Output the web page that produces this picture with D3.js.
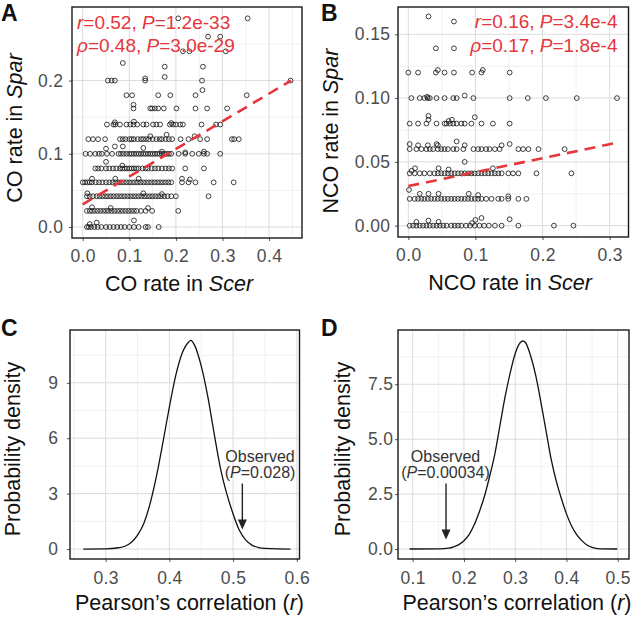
<!DOCTYPE html>
<html><head><meta charset="utf-8">
<script src="https://cdn.jsdelivr.net/npm/d3@7"></script>
<style>
body{margin:0;background:#fff}
svg{display:block}
text{font-family:"Liberation Sans",Arial,Helvetica,sans-serif}
</style>
</head><body>
<svg id="c" width="632" height="617"></svg>
<script>
// ---------------- DATA ----------------
// Panel A: CO rate (Scer on x, Spar on y); rows of points sharing a y level
const coRowY = [0.285, 0.26, 0.24, 0.224, 0.219, 0.205, 0.2, 0.187, 0.18, 0.162, 0.14, 0.12, 0.1, 0.08, 0.061, 0.042, 0.022, 0.0];
const coRowX = [
  [0.205, 0.354],
  [0.269, 0.295],
  [0.215, 0.229, 0.307],
  [0.086],
  [0.176, 0.258],
  [0.176],
  [0.054, 0.062, 0.069, 0.134, 0.256, 0.446],
  [0.257],
  [0.094, 0.106, 0.162, 0.188, 0.242, 0.352],
  [0.109, 0.145, 0.149, 0.155, 0.162, 0.174, 0.201, 0.242, 0.267, 0.31],
  [0.052, 0.066, 0.07, 0.08, 0.094, 0.102, 0.109, 0.117, 0.13, 0.137, 0.151, 0.158, 0.166, 0.187, 0.194, 0.2, 0.209, 0.215, 0.255, 0.286, 0.295],
  [0.012, 0.022, 0.033, 0.048, 0.08, 0.086, 0.092, 0.1, 0.105, 0.11, 0.118, 0.125, 0.13, 0.136, 0.142, 0.15, 0.158, 0.165, 0.17, 0.178, 0.185, 0.192, 0.21, 0.227, 0.252, 0.267, 0.32, 0.325, 0.335],
  [0.006, 0.016, 0.027, 0.035, 0.041, 0.052, 0.063, 0.077, 0.082, 0.088, 0.094, 0.1, 0.105, 0.11, 0.115, 0.12, 0.125, 0.13, 0.135, 0.14, 0.145, 0.15, 0.155, 0.16, 0.165, 0.17, 0.175, 0.18, 0.185, 0.19, 0.206, 0.22, 0.235, 0.249, 0.26, 0.267, 0.295],
  [0.027, 0.033, 0.04, 0.05, 0.057, 0.065, 0.072, 0.08, 0.085, 0.09, 0.095, 0.1, 0.105, 0.11, 0.115, 0.12, 0.128, 0.135, 0.14, 0.148, 0.155, 0.162, 0.17, 0.178, 0.185, 0.192, 0.22, 0.26],
  [0.0, 0.005, 0.01, 0.015, 0.02, 0.028, 0.035, 0.042, 0.05, 0.057, 0.064, 0.07, 0.076, 0.082, 0.088, 0.094, 0.1, 0.106, 0.112, 0.118, 0.124, 0.13, 0.136, 0.142, 0.148, 0.154, 0.16, 0.166, 0.172, 0.178, 0.184, 0.19, 0.213, 0.227, 0.242, 0.281, 0.324],
  [0.009, 0.015, 0.022, 0.03, 0.036, 0.042, 0.048, 0.054, 0.06, 0.066, 0.072, 0.078, 0.084, 0.09, 0.096, 0.102, 0.108, 0.114, 0.12, 0.126, 0.132, 0.138, 0.144, 0.15, 0.156, 0.162, 0.168, 0.175, 0.182, 0.19, 0.2, 0.27],
  [0.009, 0.015, 0.02, 0.026, 0.032, 0.038, 0.044, 0.05, 0.056, 0.062, 0.068, 0.074, 0.08, 0.086, 0.092, 0.098, 0.104, 0.11, 0.116, 0.125, 0.135, 0.149, 0.205],
  [0.009, 0.013, 0.018, 0.025, 0.032, 0.04, 0.05, 0.058, 0.066, 0.074, 0.082, 0.09, 0.1, 0.11, 0.12, 0.135, 0.14, 0.163]
];
const coExtra = [[0.134,0.203],[0.109,0.167],[0.069,0.143],[0.11,0.144],[0.19,0.142],[0.145,0.124],[0.18,0.126],[0.24,0.124],
  [0.05,0.107],[0.069,0.11],[0.13,0.108],[0.086,0.11],[0.26,0.103],[0.22,0.102],[0.17,0.103],[0.05,0.089],[0.085,0.084],
  [0.02,0.066],[0.07,0.066],[0.12,0.066],[0.213,0.066],[0.23,0.065],[0.01,0.046],[0.13,0.046],[0.17,0.045],
  [0.02,0.027],[0.06,0.026],[0.14,0.026],[0.015,0.004],[0.03,0.006],[0.11,0.009]];
const coFitX = [0, 0.447];
const coFitY = [0.031, 0.2];

// Panel B: NCO rate
const ncoRowY = [0.164, 0.16, 0.139, 0.12, 0.1, 0.08, 0.06, 0.041, 0.021, 0.0];
const ncoRowX = [
  [0.030],
  [0.068],
  [0.041, 0.068],
  [0.0, 0.0145, 0.041, 0.054, 0.068, 0.095, 0.109, 0.151],
  [0.0045, 0.017, 0.024, 0.029, 0.032, 0.042, 0.054, 0.067, 0.072, 0.097, 0.151, 0.178, 0.205, 0.251, 0.311],
  [0.002, 0.0145, 0.027, 0.042, 0.054, 0.057, 0.062, 0.067, 0.072, 0.079, 0.084, 0.094, 0.109, 0.126, 0.151],
  [0.002, 0.012, 0.0195, 0.027, 0.032, 0.037, 0.044, 0.049, 0.054, 0.059, 0.067, 0.072, 0.082, 0.097, 0.104, 0.109, 0.116, 0.121, 0.129, 0.136, 0.164, 0.171, 0.179, 0.194, 0.233],
  [0.002, 0.0095, 0.017, 0.024, 0.032, 0.039, 0.044, 0.049, 0.054, 0.059, 0.064, 0.069, 0.074, 0.079, 0.084, 0.089, 0.094, 0.099, 0.104, 0.109, 0.114, 0.119, 0.124, 0.129, 0.134, 0.139, 0.149, 0.156, 0.164, 0.191, 0.243],
  [0.002, 0.0095, 0.0145, 0.0195, 0.024, 0.029, 0.034, 0.039, 0.044, 0.049, 0.054, 0.059, 0.064, 0.069, 0.074, 0.079, 0.084, 0.089, 0.094, 0.099, 0.104, 0.109, 0.116, 0.124, 0.134, 0.139, 0.149, 0.164, 0.176],
  [0.002, 0.007, 0.012, 0.017, 0.022, 0.027, 0.032, 0.037, 0.042, 0.047, 0.052, 0.057, 0.064, 0.069, 0.074, 0.079, 0.086, 0.092, 0.099, 0.106, 0.113, 0.12, 0.129, 0.139, 0.164, 0.217, 0.246]
];
const ncoExtra = [[0.044,0.122],[0.111,0.122],[0.084,0.102],[0.028,0.101],[0.03,0.086],[0.03,0.083],[0.099,0.085],[0.06,0.082],[0.065,0.083],
  [0.002,0.064],[0.0145,0.063],[0.029,0.063],[0.042,0.064],[0.044,0.063],[0.072,0.066],[0.084,0.063],[0.139,0.063],[0.151,0.064],
  [0.01,0.045],[0.045,0.045],[0.06,0.044],[0.126,0.045],[0.084,0.050],[0.005,0.043],[0.001,0.028],
  [0.017,0.025],[0.03,0.025],[0.045,0.025],[0.09,0.025],[0.104,0.024],[0.149,0.023],
  [0.012,0.003],[0.03,0.004],[0.045,0.003],[0.1,0.0045],[0.109,0.006],[0.151,0.005],[0.095,0.002]];
const ncoFitX = [0, 0.311];
const ncoFitY = [0.031, 0.065];

// Panel C: null distribution of Pearson's r (CO)
const nullCoR = [0.265, 0.30, 0.32, 0.33, 0.34, 0.35, 0.36, 0.37, 0.38, 0.39, 0.40, 0.41, 0.42, 0.43, 0.4335, 0.44, 0.45, 0.46, 0.47, 0.48, 0.49, 0.50, 0.51, 0.52, 0.53, 0.54, 0.55, 0.57, 0.59];
const nullCoD = [0, 0.01, 0.07, 0.15, 0.35, 0.75, 1.4, 2.5, 4.0, 5.8, 7.7, 9.4, 10.6, 11.2, 11.3, 11.0, 9.9, 8.3, 6.3, 4.4, 3.0, 1.9, 1.0, 0.48, 0.2, 0.08, 0.03, 0.005, 0];
const obsCoR = 0.5145;

// Panel D: null distribution of Pearson's r (NCO)
const nullNcoR = [0.094, 0.15, 0.17, 0.18, 0.19, 0.20, 0.21, 0.22, 0.23, 0.24, 0.25, 0.26, 0.27, 0.28, 0.29, 0.30, 0.31, 0.315, 0.32, 0.33, 0.34, 0.35, 0.36, 0.37, 0.38, 0.39, 0.40, 0.41, 0.42, 0.43, 0.44, 0.45, 0.46, 0.499];
const nullNcoD = [0, 0.01, 0.04, 0.1, 0.2, 0.38, 0.65, 1.1, 1.7, 2.4, 3.3, 4.3, 5.6, 6.9, 8.0, 8.9, 9.4, 9.47, 9.4, 8.8, 7.9, 6.7, 5.4, 4.1, 3.1, 2.3, 1.6, 1.05, 0.65, 0.38, 0.18, 0.07, 0.02, 0];
const obsNcoR = 0.165;

// tick labels
const aXTicks = [0, 0.1, 0.2, 0.3, 0.4], aYTicks = [0, 0.1, 0.2];
const bXTicks = [0, 0.1, 0.2, 0.3], bYTicks = [0, 0.05, 0.10, 0.15];
const cXTicks = [0.3, 0.4, 0.5, 0.6], cYTicks = [0, 3, 6, 9];
const dXTicks = [0.1, 0.2, 0.3, 0.4, 0.5], dYTicks = [0, 2.5, 5.0, 7.5];

// ---------------- DRAWING ----------------
const svg = d3.select('#c');
const RED = '#e4363b';
const TICKFS = 17.5, TITLEFS = 21.5;

function minors(ticks, dom) {
  const step = ticks[1] - ticks[0];
  const out = [];
  for (let v = ticks[0] - step / 2; v <= ticks[ticks.length - 1] + step / 2 + 1e-9; v += step) {
    if (v > Math.min(...dom) && v < Math.max(...dom)) out.push(v);
  }
  return out;
}

function panel(cfg) {
  const x = d3.scaleLinear().domain(cfg.xd).range([cfg.l, cfg.r]);
  const y = d3.scaleLinear().domain(cfg.yd).range([cfg.b, cfg.t]);
  const g = svg.append('g');
  const grid = g.append('g');
  minors(cfg.xt, cfg.xd).forEach(v => grid.append('line').attr('x1', x(v)).attr('x2', x(v)).attr('y1', cfg.t).attr('y2', cfg.b).attr('stroke', '#ebebeb').attr('stroke-width', 0.7));
  minors(cfg.yt, cfg.yd).forEach(v => grid.append('line').attr('y1', y(v)).attr('y2', y(v)).attr('x1', cfg.l).attr('x2', cfg.r).attr('stroke', '#ebebeb').attr('stroke-width', 0.7));
  cfg.xt.forEach(v => grid.append('line').attr('x1', x(v)).attr('x2', x(v)).attr('y1', cfg.t).attr('y2', cfg.b).attr('stroke', '#dcdcdc').attr('stroke-width', 1));
  cfg.yt.forEach(v => grid.append('line').attr('y1', y(v)).attr('y2', y(v)).attr('x1', cfg.l).attr('x2', cfg.r).attr('stroke', '#dcdcdc').attr('stroke-width', 1));

  const xa = g.append('g').attr('transform', `translate(0,${cfg.b})`)
    .call(d3.axisBottom(x).tickValues(cfg.xt).tickFormat(d3.format(cfg.xf)).tickSize(3).tickPadding(cfg.xpad));
  const ya = g.append('g').attr('transform', `translate(${cfg.l},0)`)
    .call(d3.axisLeft(y).tickValues(cfg.yt).tickFormat(d3.format(cfg.yf)).tickSize(3).tickPadding(cfg.ypad));
  [xa, ya].forEach(a => {
    a.select('.domain').remove();
    a.selectAll('line').attr('stroke', '#555');
    a.selectAll('text').attr('fill', '#4d4d4d').style('font-size', TICKFS + 'px').style('letter-spacing', '0.4px')
      .style('font-family', '"Liberation Sans",Arial,sans-serif');
  });

  const clipId = 'clip' + cfg.id;
  svg.append('clipPath').attr('id', clipId).append('rect').attr('x', cfg.l).attr('y', cfg.t).attr('width', cfg.r - cfg.l).attr('height', cfg.b - cfg.t);
  const plot = g.append('g').attr('clip-path', `url(#${clipId})`);

  // axis titles
  const xt = g.append('text').attr('x', cfg.xtx).attr('y', cfg.xty).attr('text-anchor', 'middle').style('font-size', TITLEFS + 'px').attr('fill', '#111');
  cfg.xtitle.forEach(p => xt.append('tspan').text(p[0]).style('font-style', p[1] ? 'italic' : 'normal'));
  const yt = g.append('text').attr('transform', `translate(${cfg.ytx},${cfg.yty}) rotate(-90)`).attr('text-anchor', 'middle').style('font-size', TITLEFS + 'px').attr('fill', '#111');
  cfg.ytitle.forEach(p => yt.append('tspan').text(p[0]).style('font-style', p[1] ? 'italic' : 'normal'));

  // panel letter
  g.append('text').attr('x', cfg.lx).attr('y', cfg.ly).text(cfg.id).style('font-size', '23px').style('font-weight', 'bold').attr('fill', '#111');

  return {x, y, g, plot, border: () => g.append('rect').attr('x', cfg.l).attr('y', cfg.t).attr('width', cfg.r - cfg.l).attr('height', cfg.b - cfg.t).attr('fill', 'none').attr('stroke', '#1a1a1a').attr('stroke-width', 1.4)};
}

function scatter(p, rowY, rowX, extra, fitX, fitY) {
  const pts = [];
  rowY.forEach((yv, i) => rowX[i].forEach(xv => pts.push([xv, yv])));
  extra.forEach(e => pts.push(e));
  p.plot.selectAll('circle.pt').data(pts).enter().append('circle').attr('class', 'pt')
    .attr('cx', d => p.x(d[0])).attr('cy', d => p.y(d[1])).attr('r', 2.4)
    .attr('fill', 'none').attr('stroke', '#111').attr('stroke-width', 0.8);
  p.plot.append('line').attr('x1', p.x(fitX[0])).attr('y1', p.y(fitY[0])).attr('x2', p.x(fitX[1])).attr('y2', p.y(fitY[1]))
    .attr('stroke', RED).attr('stroke-width', 2.6).attr('stroke-dasharray', '11,7');
}

function statText(p, x, y1, y2, anchor, lines) {
  [y1, y2].forEach((yy, i) => {
    const t = p.g.append('text').attr('x', x).attr('y', yy).attr('text-anchor', anchor).attr('fill', RED).style('font-size', '19px');
    lines[i].forEach(s => t.append('tspan').text(s[0]).style('font-style', s[1] ? 'italic' : 'normal'));
  });
}

function density(p, xs, ds, obs, lab1, lab2, opt) {
  const pts = xs.map((v, i) => [v, ds[i]]);
  p.plot.append('path').attr('d', d3.line().x(d => p.x(d[0])).y(d => p.y(d[1])).curve(d3.curveMonotoneX)(pts))
    .attr('fill', 'none').attr('stroke', '#111').attr('stroke-width', 1.3);
  const ax = p.x(obs);
  const tip = opt.tip;
  p.g.append('line').attr('x1', ax).attr('x2', ax).attr('y1', 483.5).attr('y2', tip - 8).attr('stroke', '#222').attr('stroke-width', 1.4);
  p.g.append('path').attr('d', `M${ax - 4.5},${tip - 10}L${ax + 4.5},${tip - 10}L${ax},${tip}Z`).attr('fill', '#222');
  p.g.append('text').attr('x', opt.x).attr('y', 461.5).attr('text-anchor', 'middle').attr('fill', '#333').style('font-size', '16px').text(lab1);
  const t2 = p.g.append('text').attr('x', opt.x).attr('y', 477.5).attr('text-anchor', 'middle').attr('fill', '#333').style('font-size', '16px');
  t2.append('tspan').text('(');
  t2.append('tspan').text('P').style('font-style', 'italic');
  t2.append('tspan').text(lab2 + ')');
}

// Panel A
const pA = panel({id: 'A', l: 72, r: 302, t: 7, b: 238, xd: [-0.023, 0.4706], yd: [-0.015, 0.3005],
  xt: aXTicks, yt: aYTicks, xf: '.1f', yf: '.1f', xpad: 9, ypad: 5.5,
  xtitle: [['CO rate in ', false], ['Scer', true]], xtx: 179, xty: 291,
  ytitle: [['CO rate in ', false], ['Spar', true]], ytx: 22, yty: 128, lx: 1, ly: 21});
scatter(pA, coRowY, coRowX, coExtra, coFitX, coFitY);
statText(pA, 77, 29, 52, 'start', [[['r', true], ['=0.52, ', false], ['P', true], ['=1.2e-33', false]], [['ρ', true], ['=0.48, ', false], ['P', true], ['=3.0e-29', false]]]);
pA.border();

// Panel B
const pB = panel({id: 'B', l: 398, r: 628.5, t: 7, b: 237, xd: [-0.0154, 0.3281], yd: [-0.0089, 0.1714],
  xt: bXTicks, yt: bYTicks, xf: '.1f', yf: '.2f', xpad: 8.3, ypad: 4.5,
  xtitle: [['NCO rate in ', false], ['Scer', true]], xtx: 510, xty: 290,
  ytitle: [['NCO rate in ', false], ['Spar', true]], ytx: 338, yty: 131, lx: 321, ly: 21});
scatter(pB, ncoRowY, ncoRowX, ncoExtra, ncoFitX, ncoFitY);
statText(pB, 617.5, 28, 51.5, 'end', [[['r', true], ['=0.16, ', false], ['P', true], ['=3.4e-4', false]], [['ρ', true], ['=0.17, ', false], ['P', true], ['=1.8e-4', false]]]);
pB.border();

// Panel C
const pC = panel({id: 'C', l: 70, r: 299.5, t: 330, b: 559, xd: [0.244, 0.6042], yd: [-0.54, 11.86],
  xt: cXTicks, yt: cYTicks, xf: '.1f', yf: 'd', xpad: 9.5, ypad: 8.5,
  xtitle: [['Pearson’s correlation (', false], ['r', true], [')', false]], xtx: 189.5, xty: 610,
  ytitle: [['Probability density', false]], ytx: 20, yty: 449, lx: 1, ly: 336});
density(pC, nullCoR, nullCoD, obsCoR, 'Observed', '=0.028', {x: 260, tip: 529.5});
pC.border();

// Panel D
const pD = panel({id: 'D', l: 398, r: 629, t: 330, b: 559, xd: [0.0713, 0.522], yd: [-0.455, 9.97],
  xt: dXTicks, yt: dYTicks, xf: '.1f', yf: '.1f', xpad: 9.5, ypad: 1.5,
  xtitle: [['Pearson’s correlation (', false], ['r', true], [')', false]], xtx: 517, xty: 610,
  ytitle: [['Probability density', false]], ytx: 349.5, yty: 449, lx: 321, ly: 336});
density(pD, nullNcoR, nullNcoD, obsNcoR, 'Observed', '=0.00034', {x: 445.5, tip: 539.5});
pD.border();
</script>
</body></html>
